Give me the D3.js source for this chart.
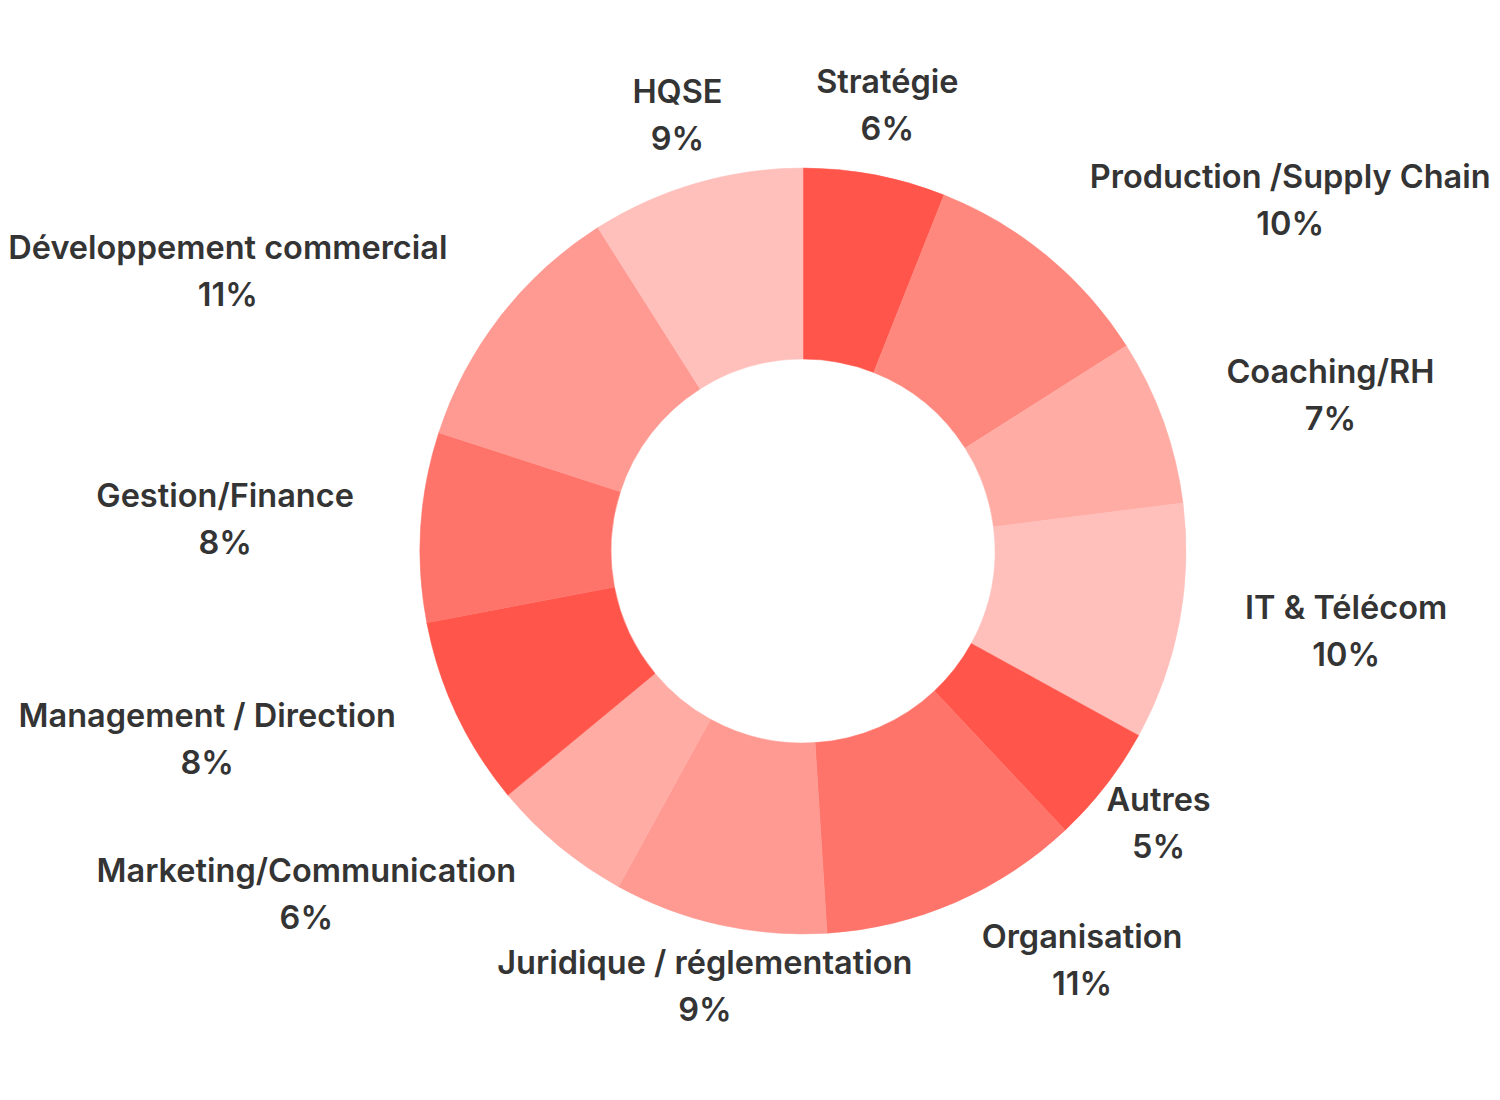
<!DOCTYPE html>
<html>
<head>
<meta charset="utf-8">
<script src="https://cdn.jsdelivr.net/npm/d3@7"></script>
<style>
  html, body { margin: 0; padding: 0; background: #fff; }
  text { font-family: "Inter", "Lato", sans-serif; font-weight: 600; fill: #343434; }
</style>
</head>
<body>
<svg id="chart"></svg>
<script>
"use strict";

const categories = [
    "Stratégie", "Production /Supply Chain", "Coaching/RH", "IT & Télécom",
    "Autres", "Organisation", "Juridique / réglementation", "Marketing/Communication",
    "Management / Direction", "Gestion/Finance", "Développement commercial", "HQSE"
];
const shares = [6, 10, 7, 10, 5, 11, 9, 6, 8, 8, 11, 9];
const sliceColors = [
    "#ff554a", "#ff887e", "#ffaca5", "#ffbfba",
    "#ff554a", "#ff746a", "#ff9a93", "#ffaca5",
    "#ff554a", "#ff746a", "#ff9a93", "#ffbfba"
];

const width = 1500, height = 1100;
const cx = 803, cy = 551;
const outer_radius = 383, inner_radius = 192, label_radius = 450;
const font_size = 32.5, line_gap = 47;

const data = categories.map(function (c, i) { return {name: c, value: shares[i]}; });

const svg = d3.select("#chart")
    .attr("width", width)
    .attr("height", height);

svg.append("rect")
    .attr("width", width)
    .attr("height", height)
    .attr("fill", "white");

const color = d3.scaleOrdinal().domain(categories).range(sliceColors);

const pie = d3.pie().sort(null).value(function (d) { return d.value; });
const arc = d3.arc().innerRadius(inner_radius).outerRadius(outer_radius);

const arcs = pie(data);

const g = svg.append("g")
    .attr("transform", "translate(" + cx + "," + cy + ")");

g.selectAll("path.slice")
    .data(arcs)
    .enter()
    .append("path")
    .attr("class", "slice")
    .attr("d", arc)
    .attr("fill", function (d) { return color(d.data.name); })
    .attr("stroke", function (d) { return color(d.data.name); })
    .attr("stroke-width", 0.5);

// Labels: two lines (name, percentage) placed around a circle outside the ring
const labels = g.selectAll("g.label")
    .data(arcs)
    .enter()
    .append("g")
    .attr("class", "label");

labels.each(function (d) {
    const mid = (d.startAngle + d.endAngle) / 2;
    const x = label_radius * Math.sin(mid);
    const y = -label_radius * Math.cos(mid);
    const node = d3.select(this);

    const t1 = node.append("text")
        .attr("font-size", font_size)
        .attr("y", y - 16)
        .text(d.data.name);
    const t2 = node.append("text")
        .attr("font-size", font_size)
        .attr("y", y - 16 + line_gap)
        .text(d.data.value + "%");

    const w1 = t1.node().getComputedTextLength();
    const w2 = t2.node().getComputedTextLength();
    const w = Math.max(w1, w2);

    // near top / bottom, or very short label: centre it on the anchor point
    let left;
    if (Math.abs(Math.sin(mid)) < 0.35 || w < 120) {
        left = x - w / 2;
    } else if (Math.sin(mid) > 0) {
        left = x;
    } else {
        left = x - w;
    }
    t1.attr("x", left + w / 2).attr("text-anchor", "middle");
    t2.attr("x", left + w / 2).attr("text-anchor", "middle");
});
</script>
</body>
</html>
